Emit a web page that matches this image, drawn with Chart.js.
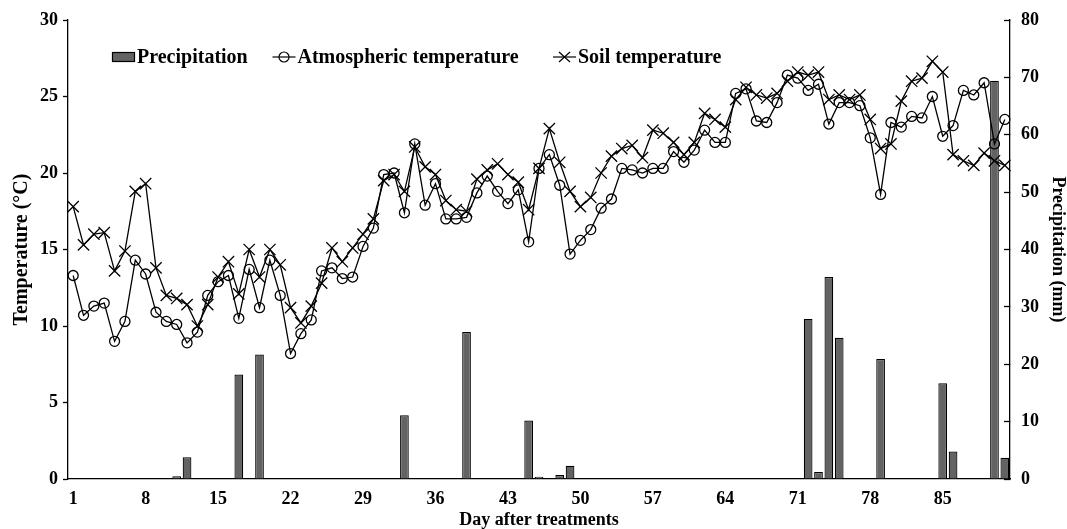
<!DOCTYPE html>
<html>
<head>
<meta charset="utf-8">
<script src="https://cdn.jsdelivr.net/npm/chart.js@4.4.0/dist/chart.umd.min.js"></script>
<style>
  html, body { margin: 0; padding: 0; background: #fff; }
</style>
</head>
<body>
<canvas id="chart" width="1067" height="529"></canvas>
<script>
// days after treatment (categories)
var days = [1,2,3,4,5,6,7,8,9,10,11,12,13,14,15,16,17,18,19,20,
  21,22,23,24,25,26,27,28,29,30,31,32,33,34,35,36,37,38,39,40,
  41,42,43,44,45,46,47,48,49,50,51,52,53,54,55,56,57,58,59,60,
  61,62,63,64,65,66,67,68,69,70,71,72,73,74,75,76,77,78,79,80,
  81,82,83,84,85,86,87,88,89,90,91];
var tickDays = [1, 8, 15, 22, 29, 36, 43, 50, 57, 64, 71, 78, 85];

// atmospheric temperature (°C)
var airTemp = [13.3,10.7,11.3,11.5,9.0,10.3,14.3,13.4,10.9,10.3,
  10.1,8.9,9.6,12.0,12.9,13.3,10.5,13.7,11.2,14.3,
  12.0,8.2,9.5,10.4,13.6,13.8,13.1,13.2,15.2,16.4,
  19.9,20.0,17.4,21.9,17.9,19.3,17.0,17.0,17.1,18.7,
  19.8,18.8,18.0,18.9,15.5,20.3,21.2,19.2,14.7,15.6,
  16.3,17.7,18.3,20.3,20.2,20.0,20.3,20.3,21.4,20.7,
  21.5,22.8,22.0,22.0,25.2,25.5,23.4,23.3,24.6,26.4,
  26.2,25.4,25.8,23.2,24.6,24.6,24.4,22.3,18.6,23.3,
  23.0,23.7,23.6,25.0,22.4,23.1,25.4,25.1,25.9,21.9,23.5];

// soil temperature (°C)
var soilTemp = [17.8,15.3,16.0,16.1,13.6,14.9,18.8,19.3,13.8,12.0,
  11.8,11.4,10.0,11.4,13.2,14.2,12.1,15.0,13.2,15.0,
  14.0,11.2,10.2,11.3,12.8,15.1,14.2,15.1,16.0,17.0,
  19.5,19.9,18.8,21.7,20.4,19.9,18.2,17.6,17.5,19.6,
  20.2,20.6,19.9,19.4,17.6,20.3,22.9,20.7,18.8,17.8,
  18.4,20.0,21.1,21.6,21.8,21.0,22.8,22.6,22.0,21.2,
  22.0,23.9,23.5,23.0,24.8,25.6,25.1,24.9,25.2,26.0,
  26.6,26.4,26.6,24.8,25.1,24.8,25.1,23.5,21.6,21.9,
  24.7,26.0,26.2,27.3,26.6,21.2,20.8,20.5,21.3,20.8,20.5];

// precipitation (mm)
var precip = [0.1,0,0,0,0,0,0,0,0,0,
  0.5,3.8,0,0,0,0,18.2,0,21.7,0.1,
  0,0,0,0,0,0,0,0,0,0,
  0,0,11.1,0,0,0,0,0,25.6,0,
  0,0,0,0,10.2,0.4,0,0.7,2.3,0,
  0,0,0,0,0,0,0,0,0,0,
  0,0,0,0,0,0,0,0,0,0,
  0,27.9,1.2,35.2,24.6,0,0,0,20.9,0.1,
  0,0,0,0,16.7,4.8,0,0,0,69.4,3.7];

Chart.defaults.font.family = '"Liberation Serif", "Times New Roman", serif';
Chart.defaults.font.weight = 'bold';
Chart.defaults.color = '#000';

// legend drawn inside the plot, like the original figure
var insideLegend = {
  id: 'insideLegend',
  afterDraw: function(chart) {
    var ctx = chart.ctx;
    var area = chart.chartArea;
    var y = area.top + 37;
    var order = [2, 0, 1];
    var offsets = [44, 204.5, 485];   // left edge of each legend item, from the plot's left side
    ctx.save();
    ctx.font = 'bold 20px "Liberation Serif"';
    ctx.textBaseline = 'middle';
    ctx.lineWidth = 1.2;
    ctx.strokeStyle = '#000';
    for (var i = 0; i < order.length; i++) {
      var ds = chart.data.datasets[order[i]];
      var x = area.left + offsets[i];
      if (ds.type == 'bar') {
        ctx.fillStyle = ds.backgroundColor;
        ctx.fillRect(x, y - 5, 23, 10);
        ctx.strokeRect(x + 0.5, y - 4.5, 22, 9);
      } else {
        ctx.beginPath();
        ctx.moveTo(x, y);
        ctx.lineTo(x + 23, y);
        ctx.stroke();
        ctx.beginPath();
        if (ds.pointStyle == 'circle') {
          ctx.arc(x + 11.5, y, 5, 0, Math.PI * 2);
        } else {
          ctx.moveTo(x + 6, y - 5); ctx.lineTo(x + 17, y + 5);
          ctx.moveTo(x + 6, y + 5); ctx.lineTo(x + 17, y - 5);
        }
        ctx.stroke();
      }
      ctx.fillStyle = '#000';
      ctx.fillText(ds.label, x + 25, y + 1);
    }
    ctx.restore();
  }
};

var chart = new Chart(document.getElementById('chart'), {
  data: {
    labels: days,
    datasets: [
      {
        type: 'line',
        label: 'Atmospheric temperature',
        data: airTemp,
        yAxisID: 'y',
        borderColor: '#000',
        borderWidth: 1.3,
        pointStyle: 'circle',
        pointRadius: 5,
        pointBorderWidth: 1.3,
        pointBorderColor: '#000',
        pointBackgroundColor: 'rgba(0,0,0,0)',
        tension: 0,
        order: 2
      },
      {
        type: 'line',
        label: 'Soil temperature',
        data: soilTemp,
        yAxisID: 'y',
        borderColor: '#000',
        borderWidth: 1.3,
        pointStyle: 'crossRot',
        pointRadius: 8,
        pointBorderWidth: 1.3,
        pointBorderColor: '#000',
        tension: 0,
        order: 1
      },
      {
        type: 'bar',
        label: 'Precipitation',
        data: precip,
        yAxisID: 'y2',
        backgroundColor: '#636363',
        borderColor: '#000',
        borderWidth: 1.2,
        barPercentage: 0.84,
        categoryPercentage: 1,
        order: 3
      }
    ]
  },
  options: {
    responsive: false,
    animation: false,
    devicePixelRatio: 1,
    layout: { padding: { top: 20, left: 0, right: 0, bottom: 0 } },
    plugins: {
      legend: { display: false },
      tooltip: { enabled: false }
    },
    scales: {
      x: {
        type: 'category',
        offset: true,
        grid: { drawOnChartArea: false, drawTicks: false },
        border: { color: '#000', width: 1.3 },
        ticks: {
          autoSkip: false,
          maxRotation: 0,
          padding: 10,
          font: { size: 18, weight: 'bold' },
          callback: function(v, i) {
            return tickDays.indexOf(days[i]) >= 0 ? String(days[i]) : '';
          }
        },
        title: {
          display: true,
          text: 'Day after treatments',
          font: { size: 18, weight: 'bold', lineHeight: 1 },
          padding: 0
        },
        afterFit: function(s) { s.height = 50; }
      },
      y: {
        position: 'left',
        min: 0,
        max: 30,
        grid: { drawOnChartArea: false, tickLength: 5, color: '#000', tickWidth: 1.3 },
        border: { color: '#000', width: 1.3 },
        ticks: { stepSize: 5, padding: 5, font: { size: 18, weight: 'bold' } },
        title: {
          display: true,
          text: 'Temperature (°C)',
          font: { size: 20, weight: 'bold' },
          padding: { top: 10, bottom: 0 }
        },
        afterFit: function(s) { s.width = 68; s.paddingTop = 11; s.paddingBottom = 11; }
      },
      y2: {
        position: 'right',
        min: 0,
        max: 80,
        grid: { drawOnChartArea: false, tickLength: -6, color: '#000', tickWidth: 1.3 },
        border: { color: '#000', width: 1.3 },
        ticks: { stepSize: 10, padding: 17, font: { size: 18, weight: 'bold' } },
        title: {
          display: true,
          text: 'Precipitation (mm)',
          font: { size: 18, weight: 'bold', lineHeight: 1 },
          padding: 0
        },
        afterFit: function(s) { s.width = 57; s.paddingTop = 11; s.paddingBottom = 11; }
      }
    }
  },
  plugins: [insideLegend]
});
</script>
</body>
</html>
